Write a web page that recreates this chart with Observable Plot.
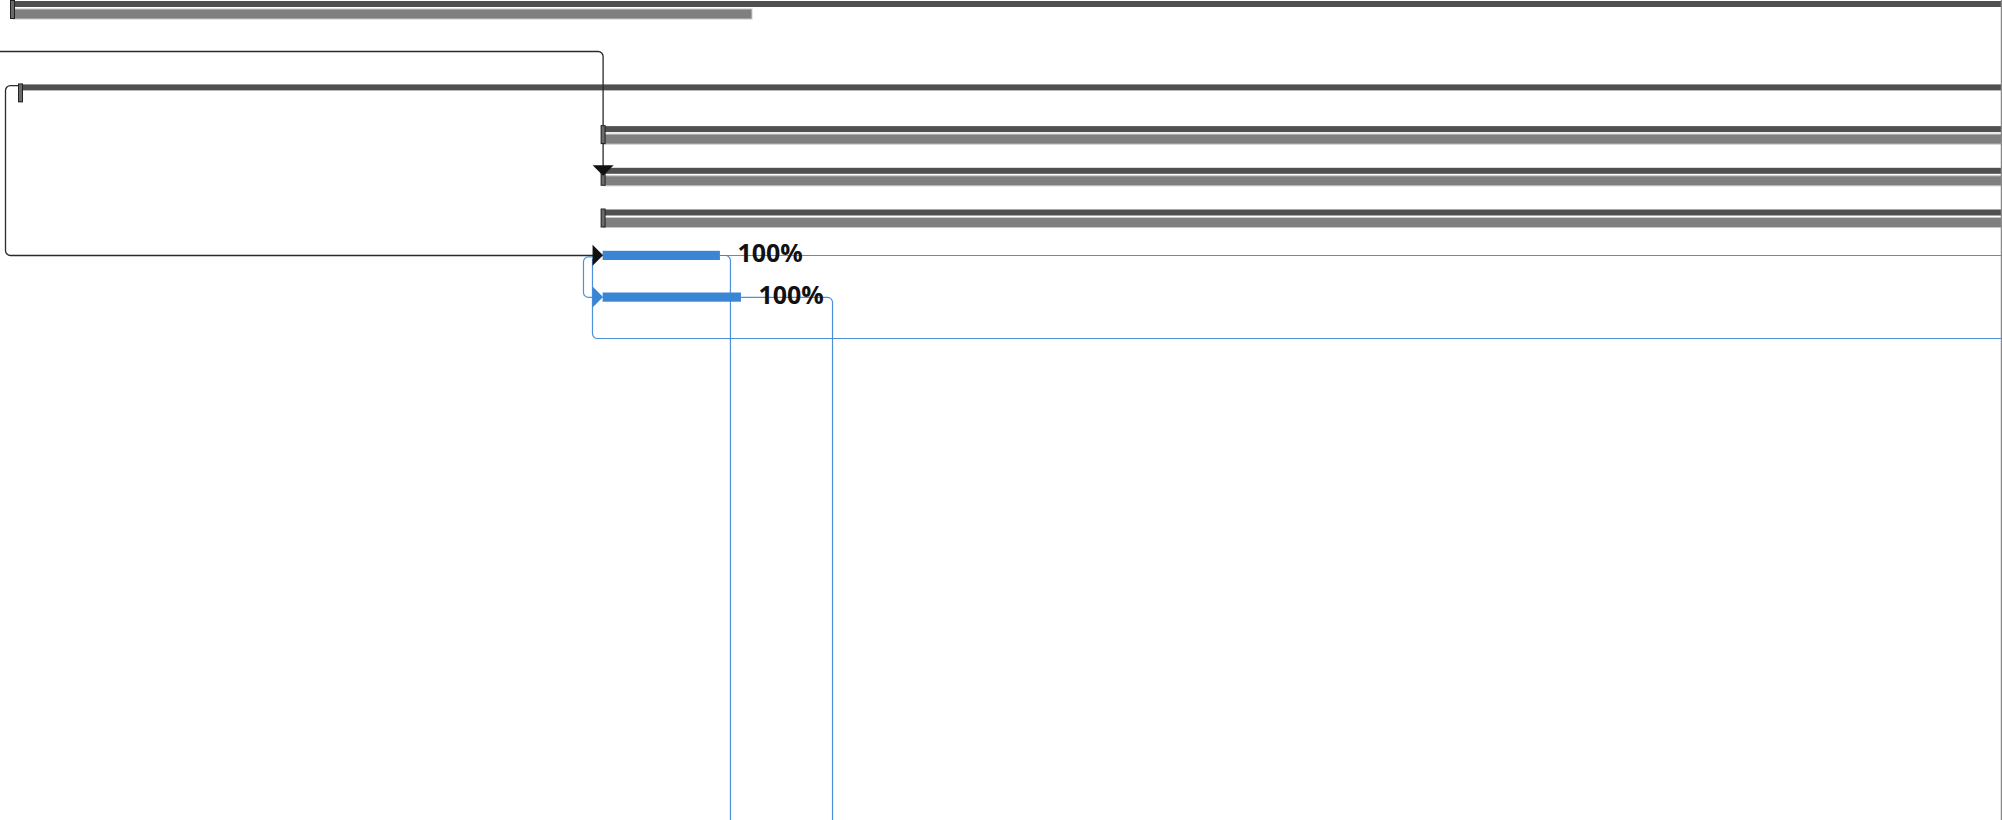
<!DOCTYPE html>
<html><head><meta charset="utf-8">
<script src="https://cdn.jsdelivr.net/npm/d3@7"></script>
<script src="https://cdn.jsdelivr.net/npm/@observablehq/plot@0.6"></script>
<style>html,body{margin:0;padding:0;background:#fff;overflow:hidden}#chart svg{display:block}</style>
</head><body><div id="chart"></div>
<script>
// ---- Data (x in days on the timeline, y in row index) ----
const taskNames   = ["Project", "Phase A", "Phase A.1", "Phase A.2", "Phase A.3", "Task 1", "Task 2"];
const taskRows    = [0, 2, 3, 4, 5, 6, 7];
const taskStarts  = [0.6, 1.0, 30.1, 30.1, 30.1, 30.1, 30.1];
const taskKinds   = ["summary", "summary", "summary", "summary", "summary", "task", "task"];
const baselineEnds = [105, 105, 105, 105, 105, null, null];
const actualEnds   = [37.56, null, 105, 105, 105, null, null];
const taskEnds     = [null, null, null, null, null, 35.96, 37.01];
const progressLabels = [null, null, null, null, null, "100%", "100%"];

// dependency routes (x days, y rows)
const blackLinks = [
  [[-1, 1.223], [30.1, 1.223], [30.1, 3.957]],
  [[0.9, 2.04], [0.25, 2.04], [0.25, 6.115], [29.6, 6.115]]
];
const blueLinks = [
  [[29.9, 6.15], [29.12, 6.15], [29.12, 7.12], [29.6, 7.12]],
  [[29.57, 6.2], [29.57, 8.106], [105, 8.106]],
  [[35.96, 6.115], [105, 6.115]],
  [[35.96, 6.115], [36.46, 6.115], [36.46, 21]],
  [[37.01, 7.12], [41.56, 7.12], [41.56, 21]]
];
// arrow heads at link ends
const arrowX    = [30.1, 30.1, 30.1];
const arrowY    = [4, 6, 7];
const arrowDir  = ["down", "right", "right"];
const arrowCol  = ["#111111", "#111111", "#3a86d4"];
const timelineEdge = [99.95];

// ---- Build ----
const ROW = 41.7;
const tasks = taskNames.map((name, i) => ({
  name, row: taskRows[i], start: taskStarts[i], kind: taskKinds[i],
  base: baselineEnds[i], actual: actualEnds[i], end: taskEnds[i], label: progressLabels[i]
}));
const summaries = tasks.filter(d => d.kind === "summary");
const leafTasks = tasks.filter(d => d.kind === "task");
const toPts = (links, color) => links.flatMap((pts, k) => pts.map(([x, y]) => ({x, y, link: color + k})));
const blackPts = toPts(blackLinks, "k");
const bluePts = toPts(blueLinks, "b");
const arrows = arrowX.map((x, i) => ({x, y: arrowY[i], dir: arrowDir[i], color: arrowCol[i]}));

function roundedCurve(context) {
  let pts;
  return {
    areaStart() {}, areaEnd() {},
    lineStart() { pts = []; },
    point(x, y) { pts.push([+x, +y]); },
    lineEnd() {
      if (!pts.length) return;
      context.moveTo(pts[0][0], pts[0][1]);
      for (let i = 1; i < pts.length - 1; ++i)
        context.arcTo(pts[i][0], pts[i][1], pts[i + 1][0], pts[i + 1][1], 5);
      const l = pts[pts.length - 1];
      context.lineTo(l[0], l[1]);
    }
  };
}
const arrowSymbol = {
  draw(ctx, size) {
    const r = Math.sqrt(size / Math.PI);
    ctx.moveTo(-r * 0.5, -r); ctx.lineTo(r * 0.5, 0); ctx.lineTo(-r * 0.5, r); ctx.closePath();
  }
};

const chart = Plot.plot({
  width: 2002, height: 820, margin: 0,
  x: {domain: [0, 100], range: [0, 2002], axis: null},
  y: {domain: [0, 820 / ROW], range: [0, 820], axis: null},
  marks: [
    // baseline (dark thin) bars
    Plot.rect(summaries.filter(d => d.base != null), {
      x1: "start", x2: "base", y1: "row", y2: d => d.row + 1,
      insetTop: 1, insetBottom: ROW - 7, fill: "#505050", clip: true
    }),
    // actual (grey) bars
    Plot.rect(summaries.filter(d => d.actual != null), {
      x1: d => d.start + 0.05, x2: "actual", y1: "row", y2: d => d.row + 1,
      insetTop: 9, insetBottom: ROW - 19, fill: "#7f7f7f", stroke: "#c6c6c6", strokeWidth: 1, clip: true
    }),
    // leaf task bars
    Plot.rect(leafTasks, {
      x1: "start", x2: "end", y1: "row", y2: d => d.row + 1,
      insetTop: 0.6, insetBottom: ROW - 9.8, fill: "#3a86d4"
    }),
    // dependency links
    Plot.line(blackPts, {x: "x", y: "y", z: "link", stroke: "#2a2a2a", strokeWidth: 1.3, curve: roundedCurve, clip: true}),
    Plot.line(bluePts, {x: "x", y: "y", z: "link", stroke: "#3a86d4", strokeWidth: 1.2, strokeOpacity: 0.9, curve: roundedCurve, clip: true}),
    // start markers of summary rows
    Plot.ruleX(summaries, {x: "start", y1: "row", y2: d => d.row + 1, insetBottom: ROW - 19, stroke: "#222", strokeWidth: 5}),
    Plot.ruleX(summaries, {x: "start", y1: "row", y2: d => d.row + 1, insetTop: 1, insetBottom: ROW - 18, stroke: "#6a6a6a", strokeWidth: 3}),
    // arrow heads
    Plot.dot(arrows.filter(d => d.dir === "down"), {
      x: "x", y: "y", symbol: arrowSymbol, r: 10.5, rotate: 90, fill: "color", stroke: "none", dy: 3.2
    }),
    Plot.dot(arrows.filter(d => d.dir === "right"), {
      x: "x", y: "y", symbol: arrowSymbol, r: 10.5, fill: "color", stroke: "none", dx: -5.3, dy: 4.6
    }),
    // progress labels
    Plot.text(leafTasks, {
      x: "end", y: "row", text: "label", dx: 17, dy: 3.2, textAnchor: "start",
      fontSize: 25, fontWeight: "bold", fontFamily: "Open Sans, sans-serif", fill: "#111"
    }),
    // timeline right edge
    Plot.ruleX(timelineEdge, {stroke: "#8a8a8a", strokeWidth: 1.5})
  ]
});
document.getElementById("chart").append(chart);
</script>
</body></html>
